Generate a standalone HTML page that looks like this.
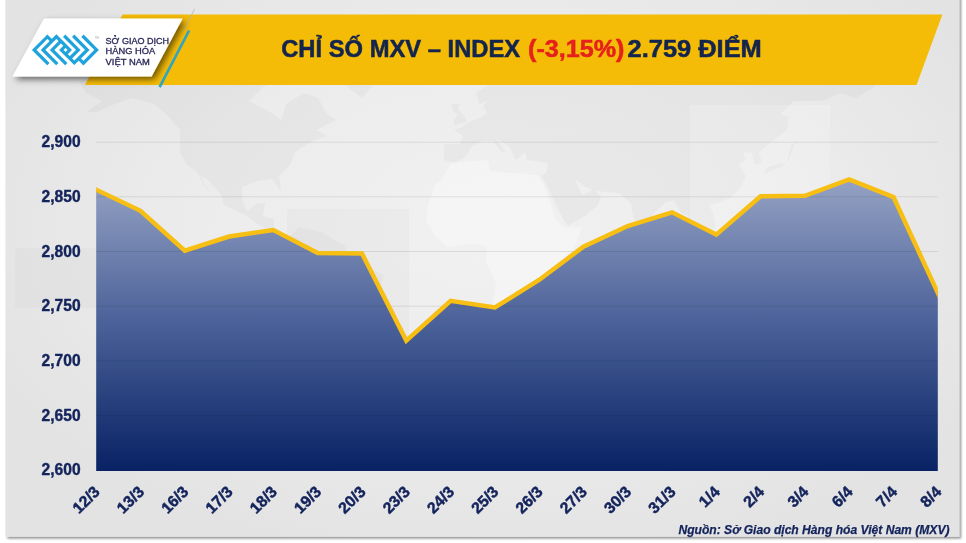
<!DOCTYPE html>
<html lang="vi">
<head>
<meta charset="utf-8">
<title>Chỉ số MXV – Index</title>
<style>
html,body{margin:0;padding:0;}
body{width:966px;height:543px;overflow:hidden;background:#ffffff;font-family:"Liberation Sans",sans-serif;}
svg{display:block;}
.ylab text{font:bold 15.6px "Liberation Sans",sans-serif;fill:#13235b;stroke:#13235b;stroke-width:0.4px;text-anchor:end;}
.xlab text{font:bold 15.8px "Liberation Sans",sans-serif;fill:#13235b;stroke:#13235b;stroke-width:0.45px;text-anchor:end;}
.grid line{stroke:#000;stroke-opacity:0.09;stroke-width:1;}
.title{font:bold 23.4px "Liberation Sans",sans-serif;fill:#14254d;stroke:#14254d;stroke-width:0.5px;}
.title .red{fill:#e6211c;stroke:#e6211c;}
.src{font:italic bold 12.1px "Liberation Sans",sans-serif;fill:#13235b;stroke:#13235b;stroke-width:0.25px;text-anchor:end;}
.logotxt text{font:8.3px "Liberation Sans",sans-serif;fill:#2c2a5a;stroke:#2c2a5a;stroke-width:0.3px;}
</style>
</head>
<body>
<svg width="966" height="543" viewBox="0 0 966 543">
<defs>
<linearGradient id="ga" x1="0" y1="179" x2="0" y2="470.6" gradientUnits="userSpaceOnUse">
<stop offset="0" stop-color="#94a2c3"/>
<stop offset="0.5" stop-color="#4a6098"/>
<stop offset="1" stop-color="#082264"/>
</linearGradient>
<clipPath id="pc"><rect x="96.2" y="100" width="841.6" height="380"/></clipPath>
<filter id="psh" x="-5%" y="-5%" width="110%" height="110%">
<feDropShadow dx="1.8" dy="1.8" stdDeviation="1.1" flood-color="#000" flood-opacity="0.42"/>
</filter>
<filter id="lsh" x="-20%" y="-30%" width="150%" height="170%">
<feDropShadow dx="3" dy="3" stdDeviation="3" flood-color="#000" flood-opacity="0.55"/>
</filter>
<filter id="mblur" x="0" y="0" width="966" height="543" filterUnits="userSpaceOnUse"><feGaussianBlur stdDeviation="0.7"/></filter>
<radialGradient id="pg" cx="500" cy="230" r="560" gradientUnits="userSpaceOnUse" gradientTransform="translate(0,92) scale(1,0.6)">
<stop offset="0" stop-color="#f1f1f1"/>
<stop offset="0.55" stop-color="#ececec"/>
<stop offset="1" stop-color="#e3e3e3"/>
</radialGradient>
</defs>
<rect width="966" height="543" fill="#ffffff"/>
<rect x="5.5" y="-10" width="953.8" height="546.8" fill="url(#pg)" filter="url(#psh)"/>
<g filter="url(#mblur)">
<g fill="#000" fill-opacity="0.03">
<polygon points="79,82 106,69 143,71 178,71 212,77 247,66 276,63 281,79 263,87 249,101 270,112 281,120 286,104 304,93 318,98 327,114 336,120 316,130 327,136 313,141 304,146 295,152 290,165 279,176 281,192 276,184 272,179 258,181 242,187 242,200 247,211 258,203 265,203 263,216 274,219 274,232 283,235 288,238 281,240 270,232 258,224 247,216 224,205 221,195 207,179 200,176 212,197 203,184 196,171 187,165 180,152 180,130 166,114 154,104 132,98 115,104 97,112 86,112 102,101 86,93"/>
<polygon points="288,238 299,227 322,232 345,246 350,259 384,275 375,299 371,318 355,329 343,350 332,361 316,372 309,398 299,398 292,380 299,339 304,307 290,297 279,272 281,256"/>
<polygon points="444,144 444,160 454,163 465,157 472,146 483,141 493,141 502,152 506,152 495,138 509,146 516,160 520,157 525,152 527,160 536,161 548,163 546,173 541,176 546,184 555,203 564,221 568,226 585,216 598,205 601,197 594,189 582,195 575,179 585,187 596,191 608,192 619,193 631,203 633,216 642,238 649,221 654,213 665,203 674,200 681,213 688,216 690,235 695,251 702,255 697,240 695,224 702,230 709,232 716,227 713,213 709,205 718,203 732,197 741,187 746,176 739,165 746,160 743,152 752,153 755,165 762,163 759,152 769,144 787,130 789,117 780,114 794,101 822,101 840,93 856,98 874,87 879,77 856,71 810,69 764,66 718,61 695,53 649,63 626,66 621,77 592,77 568,77 557,82 543,82 557,77 529,69 511,71 493,82 476,93 479,104 488,101 483,106 488,114 497,114 513,112 518,104 529,98 516,98 513,87 506,90 504,106 493,109 486,114 481,117 470,122 460,128 454,130 463,136 460,144"/>
<polygon points="764,176 766,168 778,164 787,163 789,152 792,144 798,141 794,146 789,160 782,167 776,169 769,171"/>
<polygon points="454,125 467,122 465,117 458,109 460,104 451,104 454,112 458,114 454,120"/>
<polygon points="338,39 396,37 424,53 414,71 373,85 362,98 345,85 338,71 327,55 304,50"/>
</g>
<polygon points="451,163 488,160 490,171 511,173 522,173 539,176 543,184 550,200 555,219 564,228 582,227 575,246 562,262 555,275 557,299 546,323 541,334 527,350 509,351 500,331 493,305 496,283 486,262 487,248 476,243 456,246 447,247 435,236 426,220 428,205 435,185 442,179" fill="#fff" fill-opacity="0.3"/>
<rect x="690" y="105" width="140" height="175" fill="#fff" fill-opacity="0.16"/>
<rect x="287" y="209" width="122" height="160" fill="#000" fill-opacity="0.018"/>
<rect x="15" y="248" width="81" height="60" fill="#000" fill-opacity="0.018"/>
</g>

<!-- banner -->
<polygon points="122.6,14.4 942.4,14.4 916.5,85.1 84.9,85.1" fill="#f4bb07"/>
<line x1="194.6" y1="9" x2="183.6" y2="30.4" stroke="#b4b4b4" stroke-width="0.8"/>
<line x1="189.1" y1="30.5" x2="159.6" y2="87.2" stroke="#2fa5c4" stroke-width="2.7"/>
<polygon points="44,18.4 182.6,18.4 151.6,76.4 12.4,76.4" fill="#ffffff" filter="url(#lsh)"/>
<g fill="none" stroke="#1fa3dc" stroke-width="3.25" stroke-linejoin="miter" stroke-miterlimit="4" stroke-linecap="butt">
<path d="M48.4,64.1 L34.2,49.9 L47.4,36.7 L51.8,41.1"/>
<path d="M57.3,64.1 L43.1,49.9 L56.4,36.6 L69.7,49.9 L65.55,54.05"/>
<path d="M66.3,64.1 L52.1,49.9 L60.9,41.1"/>
<path d="M65.5,45.8 L61.4,49.9 L74.3,62.8 L87.3,49.9 L73.15,35.75"/>
<path d="M78.75,58.45 L83.4,63.1 L96.6,49.9 L82.45,35.75"/>
<path d="M69.85,58.35 L78.3,49.9 L64.15,35.75"/>
</g>
<polygon points="63.6,49.9 65.5,48.0 67.4,49.9 65.5,51.8" fill="#e9f6fc"/>
<text x="94.9" y="38.6" style="font:2.6px 'Liberation Sans',sans-serif;fill:#8a9aa5">TM</text>

<g class="logotxt">
<text x="105.6" y="43.8" textLength="63.5" lengthAdjust="spacingAndGlyphs">SỞ GIAO DỊCH</text>
<text x="105.6" y="54.3" textLength="49.6" lengthAdjust="spacingAndGlyphs">HÀNG HÓA</text>
<text x="105.6" y="64.7" textLength="44.2" lengthAdjust="spacingAndGlyphs">VIỆT NAM</text>
</g>
<text class="title" y="56.8"><tspan x="281.2" textLength="239" lengthAdjust="spacingAndGlyphs">CHỈ SỐ MXV – INDEX</tspan> <tspan class="red" x="528" textLength="96.5" lengthAdjust="spacingAndGlyphs">(-3,15%)</tspan> <tspan x="627.6" textLength="134.2" lengthAdjust="spacingAndGlyphs">2.759 ĐIỂM</tspan></text>
<!-- chart -->
<polygon points="96.2,471.0 96.2,189.7 140.5,210.8 184.8,250.6 229.1,236.5 273.4,230.0 317.7,253.0 362.0,253.6 406.3,340.6 450.6,300.8 494.9,307.5 539.1,280.0 583.4,246.7 627.7,226.0 672.0,212.3 716.3,234.6 760.6,196.3 804.9,195.8 849.2,179.4 893.5,197.1 937.8,292.9 937.8,471.0" fill="url(#ga)"/>
<g class="grid">
<line x1="96.2" x2="937.8" y1="142.2" y2="142.2"/>
<line x1="96.2" x2="937.8" y1="196.8" y2="196.8"/>
<line x1="96.2" x2="937.8" y1="251.5" y2="251.5"/>
<line x1="96.2" x2="937.8" y1="306.2" y2="306.2"/>
<line x1="96.2" x2="937.8" y1="360.9" y2="360.9"/>
<line x1="96.2" x2="937.8" y1="415.6" y2="415.6"/>
</g>
<polyline points="51.9,168.6 96.2,189.7 140.5,210.8 184.8,250.6 229.1,236.5 273.4,230.0 317.7,253.0 362.0,253.6 406.3,340.6 450.6,300.8 494.9,307.5 539.1,280.0 583.4,246.7 627.7,226.0 672.0,212.3 716.3,234.6 760.6,196.3 804.9,195.8 849.2,179.4 893.5,197.1 937.8,292.9 982.1,388.7" clip-path="url(#pc)" fill="none" stroke="#f7be14" stroke-width="4.5" stroke-linejoin="miter" stroke-linecap="butt"/>
<g class="ylab">
<text x="80.6" y="147.2">2,900</text>
<text x="80.6" y="201.8">2,850</text>
<text x="80.6" y="256.5">2,800</text>
<text x="80.6" y="311.2">2,750</text>
<text x="80.6" y="365.9">2,700</text>
<text x="80.6" y="420.6">2,650</text>
<text x="80.6" y="475.3">2,600</text>
</g>
<g class="xlab">
<text transform="translate(100.8,492.7) rotate(-45)">12/3</text>
<text transform="translate(145.1,492.7) rotate(-45)">13/3</text>
<text transform="translate(189.4,492.7) rotate(-45)">16/3</text>
<text transform="translate(233.7,492.7) rotate(-45)">17/3</text>
<text transform="translate(278.0,492.7) rotate(-45)">18/3</text>
<text transform="translate(322.3,492.7) rotate(-45)">19/3</text>
<text transform="translate(366.6,492.7) rotate(-45)">20/3</text>
<text transform="translate(410.9,492.7) rotate(-45)">23/3</text>
<text transform="translate(455.2,492.7) rotate(-45)">24/3</text>
<text transform="translate(499.5,492.7) rotate(-45)">25/3</text>
<text transform="translate(543.7,492.7) rotate(-45)">26/3</text>
<text transform="translate(588.0,492.7) rotate(-45)">27/3</text>
<text transform="translate(632.3,492.7) rotate(-45)">30/3</text>
<text transform="translate(676.6,492.7) rotate(-45)">31/3</text>
<text transform="translate(720.9,492.7) rotate(-45)">1/4</text>
<text transform="translate(765.2,492.7) rotate(-45)">2/4</text>
<text transform="translate(809.5,492.7) rotate(-45)">3/4</text>
<text transform="translate(853.8,492.7) rotate(-45)">6/4</text>
<text transform="translate(898.1,492.7) rotate(-45)">7/4</text>
<text transform="translate(942.4,492.7) rotate(-45)">8/4</text>
</g>
<text class="src" x="949.5" y="534.1">Nguồn: Sở Giao dịch Hàng hóa Việt Nam (MXV)</text>
</svg>
</body>
</html>
